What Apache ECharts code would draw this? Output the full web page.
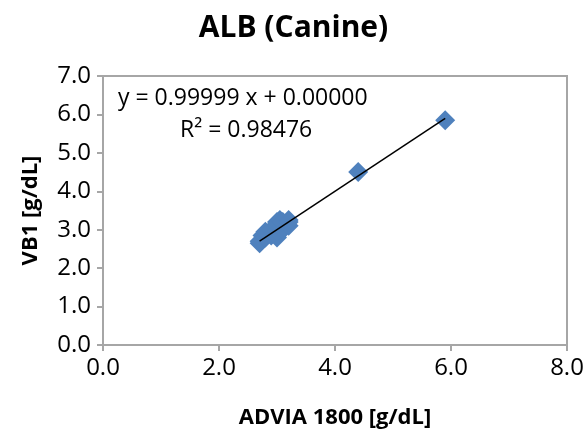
<!DOCTYPE html>
<html>
<head>
<meta charset="utf-8">
<script src="https://cdn.jsdelivr.net/npm/echarts@6/dist/echarts.min.js"></script>
<style>
  html, body { margin: 0; padding: 0; background: #fff; }
  #chart { width: 587px; height: 439px; }
</style>
</head>
<body>
<div id="chart"></div>
<script>
// ADVIA 1800 reference values (x) vs VB1 values (y), g/dL
const advia = [2.7, 2.7, 2.75, 2.8, 2.8, 2.9, 2.9, 2.95, 3.0, 3.0, 3.0, 3.0, 3.05, 3.1, 3.1, 3.2, 3.2, 3.2, 4.4, 5.9];
const vb1   = [2.65, 2.7, 2.85, 2.8, 2.95, 2.85, 3.0, 2.9, 2.8, 3.1, 3.2, 2.95, 3.25, 3.0, 3.2, 3.1, 3.25, 3.2, 4.5, 5.85];

// Linear fit reported for this data set
const slope = 0.99999;
const intercept = 0.00000;
const rSquared = 0.98476;

const xTicks = [0, 2, 4, 6, 8];
const yTicks = [0, 1, 2, 3, 4, 5, 6, 7];

const points = advia.map((x, i) => [x, vb1[i]]);
const xMin = Math.min(...advia);
const xMax = Math.max(...advia);
const fitLine = [[xMin, slope * xMin + intercept], [xMax, slope * xMax + intercept]];

const font = '"Open Sans", "Liberation Sans", sans-serif';
const axisGray = '#a6a6a6';

const chart = echarts.init(document.getElementById('chart'), null, { renderer: 'canvas' });
chart.setOption({
  animation: false,
  backgroundColor: '#ffffff',
  title: [
    {
      text: 'ALB (Canine)',
      left: 'center',
      top: 8,
      textStyle: { fontFamily: font, fontSize: 30, fontWeight: 'bold', color: '#000' }
    },
    {
      text: 'y = ' + slope.toFixed(5) + ' x + ' + intercept.toFixed(5),
      left: 113,
      top: 82,
      textStyle: { fontFamily: font, fontSize: 23, fontWeight: 'normal', color: '#000' }
    },
    {
      text: 'R² = ' + rSquared.toFixed(5),
      left: 175,
      top: 114,
      textStyle: { fontFamily: font, fontSize: 23, fontWeight: 'normal', color: '#000' }
    }
  ],
  grid: {
    left: 103, right: 20, top: 76, bottom: 94,
    show: true, borderColor: axisGray, borderWidth: 2, backgroundColor: '#fff'
  },
  xAxis: {
    type: 'value',
    min: xTicks[0], max: xTicks[xTicks.length - 1], interval: 2,
    name: 'ADVIA 1800 [g/dL]',
    nameLocation: 'middle',
    nameGap: 62,
    nameTextStyle: { fontFamily: font, fontSize: 22, fontWeight: 'bold', color: '#000' },
    axisLine: { lineStyle: { color: axisGray, width: 2 } },
    axisTick: { show: true, length: 6, lineStyle: { color: axisGray, width: 2 } },
    axisLabel: {
      fontFamily: font, fontSize: 24, color: '#000', margin: 11,
      formatter: v => v.toFixed(1)
    },
    splitLine: { show: false }
  },
  yAxis: {
    type: 'value',
    min: yTicks[0], max: yTicks[yTicks.length - 1], interval: 1,
    name: 'VB1 [g/dL]',
    nameLocation: 'middle',
    nameGap: 61,
    nameRotate: 90,
    nameTextStyle: { fontFamily: font, fontSize: 22, fontWeight: 'bold', color: '#000' },
    axisLine: { lineStyle: { color: axisGray, width: 2 } },
    axisTick: { show: true, length: 6, lineStyle: { color: axisGray, width: 2 } },
    axisLabel: {
      fontFamily: font, fontSize: 24, color: '#000', margin: 12,
      formatter: v => v.toFixed(1)
    },
    splitLine: { show: false }
  },
  series: [
    {
      type: 'scatter',
      data: points,
      symbol: 'diamond',
      symbolSize: 20,
      itemStyle: { color: '#4f81bd', opacity: 1 },
      z: 2
    },
    {
      type: 'line',
      data: fitLine,
      symbol: 'none',
      lineStyle: { color: '#000', width: 1.5 },
      z: 3
    }
  ]
});
</script>
</body>
</html>
